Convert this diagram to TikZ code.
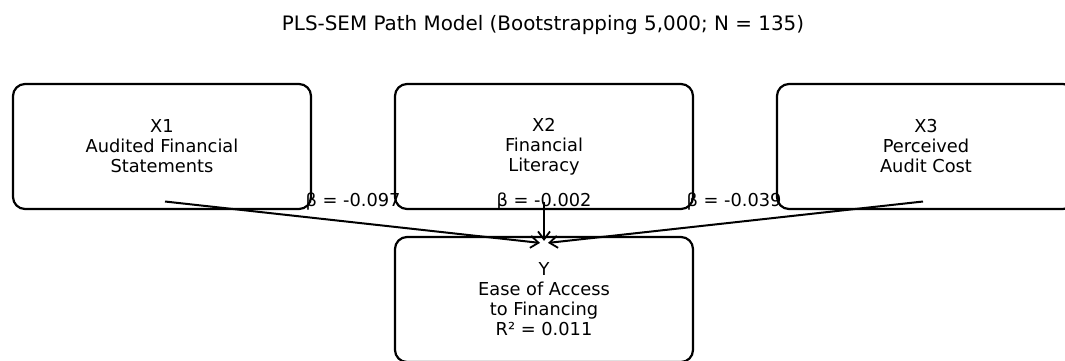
\documentclass[tikz,border=0pt]{standalone}
\usepackage{fontspec}
\setmainfont{DejaVu Sans}
\usetikzlibrary{arrows.meta,calc}
\begin{document}
\begin{tikzpicture}[x=1pt,y=-1pt,
  box/.style={draw=black,line width=2.2pt,rounded corners=12pt,minimum width=298pt,minimum height=125pt,align=center,font=\fontsize{17.8}{20}\selectfont,inner sep=0pt},
  conn/.style={line width=2pt,-{Straight Barb[length=8pt,width=12pt,line width=1.8pt]}},
  lab/.style={font=\fontsize{17.8}{20}\selectfont,inner sep=0pt}]
\useasboundingbox (0,0) rectangle (1065,360);
\clip (0,0) rectangle (1065,360);
\node[font=\fontsize{19.9}{22}\selectfont] (title) at (543,25.5) {PLS-SEM Path Model (Bootstrapping 5,000; N = 135)};
\node[box] (x1) at (162,146.5) {X1\\Audited Financial\\Statements};
\node[box] (x2) at (544,146.5) {X2\\Financial\\Literacy};
\node[box] (x3) at (926,146.5) {X3\\Perceived\\Audit Cost};
\node[box] (y) at (544,299.5) {Y\\Ease of Access\\to Financing\\R² = 0.011};
\coordinate (s1) at ($(x1.center)+(3,55)$);
\coordinate (s2) at ($(x2.center)+(0,55)$);
\coordinate (s3) at ($(x3.center)+(-3,55)$);
\coordinate (e1) at ($(y.north)+(-4,7)$);
\coordinate (e2) at ($(y.north)+(0,5)$);
\coordinate (e3) at ($(y.north)+(4,7)$);
\draw[conn] (s1) -- (e1);
\draw[conn] (s2) -- (e2);
\draw[conn] (s3) -- (e3);
\node[lab] (b1) at (353,201.5) {β = -0.097};
\node[lab] (b2) at (544,201.5) {β = -0.002};
\node[lab] (b3) at (734,201.5) {β = -0.039};
\end{tikzpicture}
\end{document}
